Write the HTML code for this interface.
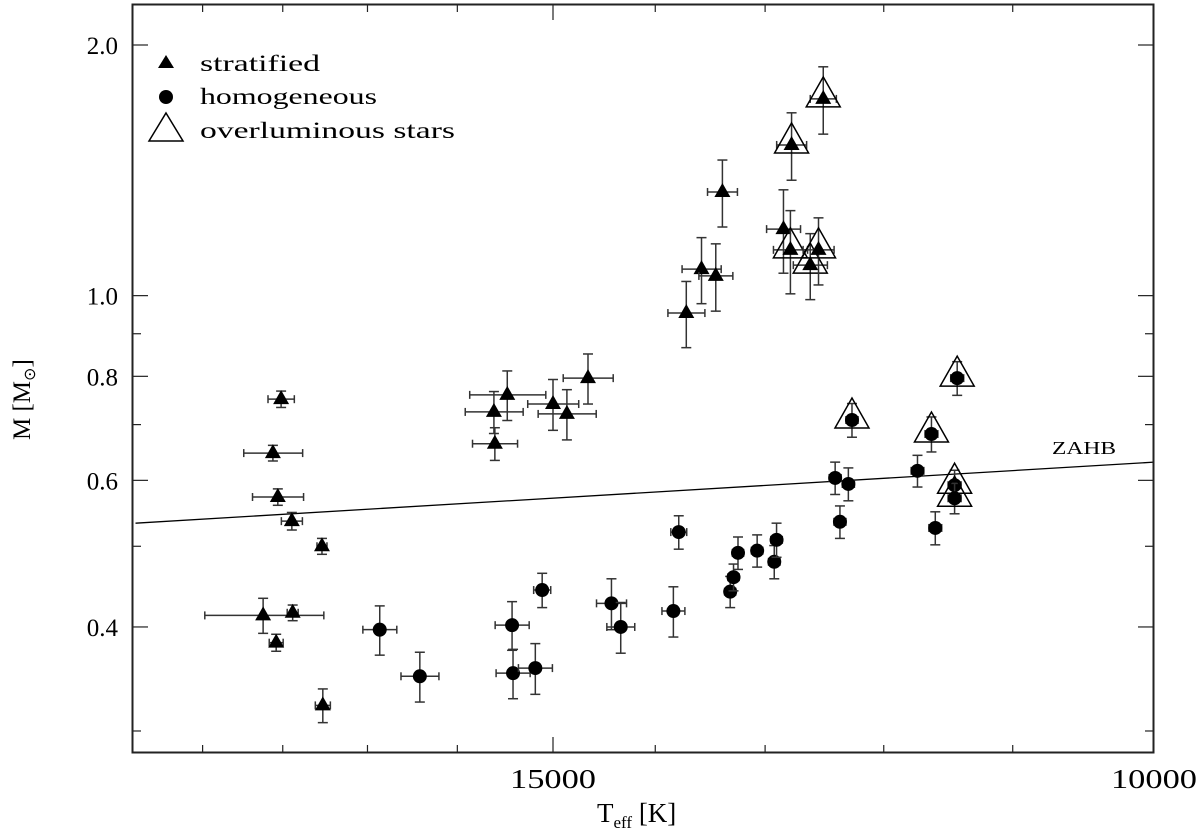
<!DOCTYPE html>
<html><head><meta charset="utf-8"><style>
html,body{margin:0;padding:0;background:#fff;}
svg{display:block;font-family:"Liberation Serif",serif;}
</style></head><body>
<svg id="chart" width="1200" height="834" viewBox="0 0 1200 834" xmlns="http://www.w3.org/2000/svg">
<rect x="0" y="0" width="1200" height="834" fill="#fff"/>
<g id="marks"></g>
<rect x="132.5" y="4.5" width="1021" height="748" fill="none" stroke="#222" stroke-width="2"/>
<g id="axes"></g>
<text x="1052" y="454" font-size="18" textLength="64" lengthAdjust="spacingAndGlyphs">ZAHB</text>
<g>
  <polygon points="166,55 174,68 158,68" fill="#000"/>
  <text x="200" y="71" font-size="23" textLength="120" lengthAdjust="spacingAndGlyphs">stratified</text>
  <circle cx="166" cy="97" r="7" fill="#000"/>
  <text x="200" y="104" font-size="23" textLength="177" lengthAdjust="spacingAndGlyphs">homogeneous</text>
  <polygon points="166,113 183,141 149,141" fill="none" stroke="#000" stroke-width="1.5"/>
  <text x="200" y="138" font-size="23" textLength="255" lengthAdjust="spacingAndGlyphs">overluminous stars</text>
</g>
<text x="597" y="822" font-size="27">T<tspan font-size="17" dy="6">eff</tspan><tspan dy="-6"> [K]</tspan></text>
<text transform="translate(30,440) rotate(-90)" font-size="25">M [M<tspan font-size="16" dy="5">⊙</tspan><tspan dy="-5">]</tspan></text>
</svg>
<script>
// ---- data ----
const stratT = [18020,18120,18060,17890,17530,18240,17880,18080,17520,15470,15610,15600,15000,14860,14650,13710,13570,13440,13380,12840,12780,12610,12540,12770,12500];
const stratM = [0.751,0.647,0.573,0.536,0.500,0.413,0.416,0.383,0.322,0.760,0.725,0.664,0.741,0.721,0.796,0.953,1.076,1.056,1.332,1.202,1.135,1.088,1.135,1.517,1.723];
const stratTerr = [160,360,311,127,59,732,66,85,89,397,305,237,258,291,247,171,179,154,135,147,147,145,131,129,110];
const stratMerr = [0.017,0.014,0.013,0.013,0.011,0.020,0.009,0.009,0.015,0.052,0.042,0.030,0.052,0.050,0.055,0.087,0.098,0.098,0.123,0.138,0.130,0.099,0.105,0.141,0.160];
const stratOver = [0,0,0,0,0,0,0,0,0,0,0,0,0,0,0,0,0,0,0,0,1,1,1,1,1];

const homT = [16860,16410,15420,15410,15180,15110,14420,14330,13830,13780,13310,13280,13240,13070,12920,12900,12400,12290,12360,12260,11620,11730,11590,11420,11440,11440];
const homM = [0.397,0.349,0.402,0.352,0.357,0.443,0.427,0.400,0.418,0.520,0.441,0.459,0.491,0.494,0.479,0.509,0.604,0.594,0.535,0.709,0.682,0.616,0.526,0.796,0.592,0.571];
const homTerr = [193,210,177,177,174,87,146,135,107,74,50,50,50,50,50,50,50,50,50,50,50,50,50,50,50,50];
const homMerr = [0.027,0.024,0.027,0.024,0.025,0.021,0.030,0.028,0.029,0.024,0.019,0.017,0.022,0.022,0.022,0.024,0.027,0.027,0.024,0.033,0.033,0.027,0.024,0.037,0.025,0.024];
const homOver = [0,0,0,0,0,0,0,0,0,0,0,0,0,0,0,0,0,0,0,1,1,0,0,1,1,1];

const zahbT = [19880, 10000];
const zahbM = [0.533, 0.631];

const xMajorTicks = [15000, 10000];
const xMajorLabels = ["15000", "10000"];
const xMinorTicks = [19000,18000,17000,16000,14000,13000,12000,11000];
const yMajorTicks = [2.0, 1.0, 0.8, 0.6, 0.4];
const yMajorLabels = ["2.0", "1.0", "0.8", "0.6", "0.4"];
const yMinorTicks = [0.9, 0.7, 0.5, 0.3];

// ---- scales ----
function xs(T){ return 553 + (Math.log10(15000) - Math.log10(T)) * 3413; }
function ys(M){ return 45 + (Math.log10(2) - Math.log10(M)) * 832.6; }

const NS = "http://www.w3.org/2000/svg";
function mk(tag, attrs, parent){
  const e = document.createElementNS(NS, tag);
  for (const k in attrs) e.setAttribute(k, attrs[k]);
  parent.appendChild(e);
  return e;
}
const marks = document.getElementById('marks');
const axes = document.getElementById('axes');

xMajorTicks.forEach((t,i)=>{
  const x = xs(t);
  if (x < 1150) {
    const a = mk('line',{x1:x,x2:x,y1:752,y2:737,stroke:'#222','stroke-width':1.2},axes);
    
    
    const b = mk('line',{x1:x,x2:x,y1:5,y2:20,stroke:'#222','stroke-width':1.2},axes);
    
    
  }
  const l = mk('text',{x:x,y:788,'font-size':27,'text-anchor':'middle',textLength:86,lengthAdjust:'spacingAndGlyphs'},axes);
  l.textContent = xMajorLabels[i];
  
  
});
xMinorTicks.forEach(t=>{
  const x = xs(t);
  const a = mk('line',{x1:x,x2:x,y1:752,y2:745,stroke:'#222','stroke-width':1.2},axes);
  
  
  const b = mk('line',{x1:x,x2:x,y1:5,y2:12,stroke:'#222','stroke-width':1.2},axes);
  
  
});
yMajorTicks.forEach((m,i)=>{
  const y = ys(m);
  const a = mk('line',{x1:133,x2:148,y1:y,y2:y,stroke:'#222','stroke-width':1.2},axes);
  
  
  const b = mk('line',{x1:1153,x2:1138,y1:y,y2:y,stroke:'#222','stroke-width':1.2},axes);
  
  
  const l = mk('text',{x:118,y:y+9,'font-size':25,'text-anchor':'end'},axes);
  l.textContent = yMajorLabels[i];
  
  
});
yMinorTicks.forEach(m=>{
  const y = ys(m);
  const a = mk('line',{x1:133,x2:141,y1:y,y2:y,stroke:'#222','stroke-width':1.2},axes);
  
  
  const b = mk('line',{x1:1153,x2:1145,y1:y,y2:y,stroke:'#222','stroke-width':1.2},axes);
  
  
});

const zl = mk('line',{x1:xs(zahbT[0]),y1:ys(zahbM[0]),x2:xs(zahbT[1]),y2:ys(zahbM[1]),stroke:'#000','stroke-width':1.3},marks);



function errbars(T,M,dT,dM){
  const x = xs(T), y = ys(M);
  const x1 = xs(T+dT), x2 = xs(T-dT), y1 = ys(M+dM), y2 = ys(M-dM);
  const g = mk('g',{stroke:'#333','stroke-width':1.5},marks);
  
  
  mk('line',{x1:x1,x2:x2,y1:y,y2:y},g);
  mk('line',{x1:x1,x2:x1,y1:y-4,y2:y+4},g);
  mk('line',{x1:x2,x2:x2,y1:y-4,y2:y+4},g);
  mk('line',{x1:x,x2:x,y1:y1,y2:y2},g);
  mk('line',{x1:x-5,x2:x+5,y1:y1,y2:y1},g);
  mk('line',{x1:x-5,x2:x+5,y1:y2,y2:y2},g);
}
function overTri(x,y){
  const t = mk('polygon',{points:`${x},${y-22} ${x+17},${y+8} ${x-17},${y+8}`,fill:'none',stroke:'#000','stroke-width':1.5},marks);
  
  
}

stratT.forEach((T,i)=>{
  errbars(T,stratM[i],stratTerr[i],stratMerr[i]);
  const x = xs(T), y = ys(stratM[i]);
  const p = mk('polygon',{points:`${x},${y-9} ${x+8},${y+5} ${x-8},${y+5}`,fill:'#000'},marks);
  
  
  if (stratOver[i]) overTri(x,y);
});
homT.forEach((T,i)=>{
  errbars(T,homM[i],homTerr[i],homMerr[i]);
  const x = xs(T), y = ys(homM[i]);
  const c = mk('circle',{cx:x,cy:y,r:7,fill:'#000'},marks);
  
  
  if (homOver[i]) overTri(x,y);
});
</script>
</body></html>
